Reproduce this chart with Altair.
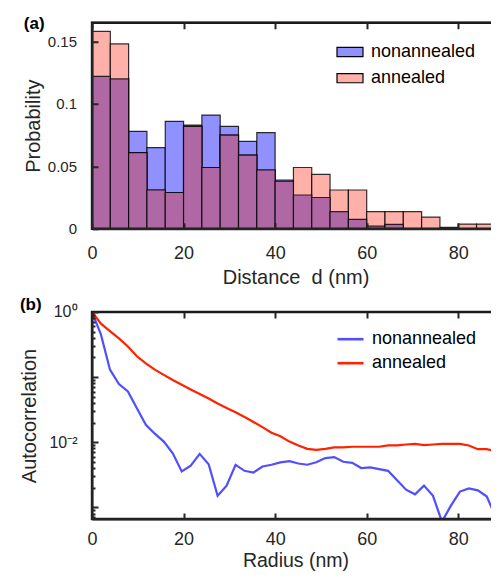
import altair as alt
import pandas as pd

# ---------------- data ----------------
series_names = ["nonannealed", "annealed"]

bin_left = [0, 4, 8, 12, 16, 20, 24, 28, 32, 36, 40, 44, 48, 52, 56, 60, 64, 68, 72, 76, 80, 84]
bin_right = [4, 8, 12, 16, 20, 24, 28, 32, 36, 40, 44, 48, 52, 56, 60, 64, 68, 72, 76, 80, 84, 88]
nonannealed_prob = [0.122, 0.120, 0.078, 0.065, 0.086, 0.083, 0.091, 0.082, 0.070, 0.077, 0.039,
                    0.027, 0.025, 0.0136, 0.0075, 0.002, 0.0035, 0.0, 0.0, 0.001, 0.0, 0.0]
annealed_prob = [0.158, 0.148, 0.061, 0.031, 0.029, 0.082, 0.049, 0.075, 0.059, 0.047, 0.038,
                 0.049, 0.0435, 0.031, 0.031, 0.0136, 0.0136, 0.0136, 0.0093, 0.0, 0.0037, 0.0037]

radius_nm = [0, 1.96, 3.92, 5.88, 7.84, 9.8, 11.76, 13.72, 15.68, 17.64, 19.6, 21.56, 23.52,
             25.48, 27.44, 29.4, 31.36, 33.32, 35.28, 37.24, 39.2, 41.16, 43.12, 45.08, 47.04,
             49.0, 50.96, 52.92, 54.88, 56.84, 58.8, 60.76, 62.72, 64.68, 66.64, 68.6, 70.56,
             72.52, 74.48, 76.44, 78.4, 80.36, 82.32, 84.28, 86.24, 88.2, 90.16]
nonannealed_acf = [1.0, 0.449, 0.130, 0.078, 0.060, 0.0333, 0.0185, 0.0135, 0.0102, 0.00676,
                   0.00355, 0.00437, 0.0066, 0.00457, 0.0015, 0.00214, 0.00447, 0.00363, 0.00342,
                   0.00423, 0.00449, 0.0049, 0.0051, 0.0047, 0.0045, 0.0049, 0.0057, 0.0059,
                   0.0050, 0.0048, 0.0040, 0.0041, 0.00385, 0.00363, 0.0026, 0.00186, 0.00158,
                   0.00215, 0.0015, 0.0006, 0.00106, 0.00174, 0.00195, 0.00182, 0.00146, 0.0007,
                   0.0009]
annealed_acf = [1.0, 0.661, 0.509, 0.394, 0.295, 0.209, 0.162, 0.130, 0.108, 0.090, 0.0764,
                0.0646, 0.055, 0.0468, 0.0394, 0.0335, 0.0288, 0.0243, 0.0204, 0.0170, 0.0140,
                0.0123, 0.0102, 0.0089, 0.0079, 0.0076, 0.0079, 0.0083, 0.0083, 0.0085, 0.0085,
                0.0085, 0.0085, 0.0089, 0.0089, 0.0092, 0.0094, 0.0090, 0.0092, 0.0094, 0.0094,
                0.0094, 0.0089, 0.0078, 0.0078, 0.0072, 0.0083]

x_ticks = [0, 20, 40, 60, 80]
prob_ticks = [0, 0.05, 0.1, 0.15]
acf_ticks = [1, 0.9, 0.8, 0.7, 0.6, 0.5, 0.4, 0.3, 0.2,
             0.1, 0.09, 0.08, 0.07, 0.06, 0.05, 0.04, 0.03, 0.02,
             0.01, 0.009, 0.008, 0.007, 0.006, 0.005, 0.004, 0.003, 0.002,
             0.001, 0.0009, 0.0008, 0.0007]

x_limits = [0, 88.9]
prob_limits = [0, 0.165]
acf_limits = [0.00066, 1]

# ---------------- tables ----------------
hist_df = pd.concat([
    pd.DataFrame({"start": bin_left, "end": bin_right, "prob": nonannealed_prob, "series": series_names[0]}),
    pd.DataFrame({"start": bin_left, "end": bin_right, "prob": annealed_prob, "series": series_names[1]}),
], ignore_index=True)
overlap_df = pd.DataFrame({"start": bin_left, "end": bin_right,
                           "prob": [min(a, b) for a, b in zip(nonannealed_prob, annealed_prob)]})

acf_df = pd.concat([
    pd.DataFrame({"radius": radius_nm, "acf": nonannealed_acf, "series": series_names[0]}),
    pd.DataFrame({"radius": radius_nm, "acf": annealed_acf, "series": series_names[1]}),
], ignore_index=True)

box_a_df = pd.DataFrame({"start": [x_limits[0]], "end": [x_limits[1]],
                         "prob": [prob_limits[1]], "prob_lo": [prob_limits[0]]})
box_b_df = pd.DataFrame({"radius": [x_limits[0]], "radius_end": [x_limits[1]],
                         "acf": [acf_limits[1]], "acf_lo": [acf_limits[0]]})

# ---------------- style ----------------
W = 407
HA = 206
HB = 207
INK = "#262626"
FONT = "Liberation Sans"
BAR_COLORS = ["#9090ff", "#ffb0a8"]
OVERLAP_COLOR = "#b068a4"
LINE_COLORS = ["#4f4fff", "#ff2200"]
NBSP = "\u00a0"


def x_axis(title, h, label_pad, title_pad, title_size):
    return alt.Axis(values=x_ticks, title=title, titleFontSize=title_size, titleFontWeight="normal",
                    titleColor=INK, labelColor=INK, labelFontSize=18, labelFlush=False,
                    labelPadding=label_pad, titlePadding=title_pad, ticks=False, zindex=1,
                    domain=True, domainColor=INK, domainWidth=2,
                    grid=True, gridColor=INK, gridWidth=2, gridOpacity=1, gridDash=[6, h - 12, 6])


def legend(y, symbol, **kw):
    return alt.Legend(title=None, orient="none", legendX=244, legendY=y, labelFontSize=18,
                      labelColor="black", labelFont=FONT, symbolType=symbol, symbolSize=676,
                      labelOffset=7, padding=0, **kw)


x_scale = alt.Scale(domain=x_limits, nice=False, zero=False)
y_scale_a = alt.Scale(domain=prob_limits, nice=False)
y_scale_b = alt.Scale(type="log", domain=acf_limits, nice=False)

y_axis_a = alt.Axis(values=prob_ticks, format="~g", title="Probability", titleFontSize=20,
                    titleFontWeight="normal", titleColor=INK, labelColor=INK, labelFontSize=15,
                    labelFlush=False, labelPadding=15.5, titlePadding=3.5, ticks=False, zindex=1,
                    domain=True, domainColor=INK, domainWidth=2,
                    grid=True, gridColor=INK, gridWidth=2, gridOpacity=1, gridDash=[6, W - 12, 6])

bars = alt.Chart(hist_df).mark_bar(stroke="black", strokeWidth=1.2, strokeOpacity=0.8, clip=True).encode(
    x=alt.X("start:Q", scale=x_scale, axis=x_axis(f"Distance{NBSP}{NBSP}d{NBSP}(nm)", HA, 16, 5, 20)),
    x2="end:Q",
    y=alt.Y("prob:Q", scale=y_scale_a, stack=None, axis=y_axis_a),
    y2=alt.datum(0),
    color=alt.Color("series:N", scale=alt.Scale(domain=series_names, range=BAR_COLORS),
                    legend=legend(15.3, "M-1,-0.35H1V0.35H-1Z", rowPadding=3.2,
                                  symbolOpacity=1, symbolStrokeColor="black", symbolStrokeWidth=1.2)),
)

overlap = alt.Chart(overlap_df).mark_bar(fill=OVERLAP_COLOR, stroke="black", strokeWidth=1.2,
                                         strokeOpacity=0.8, clip=True).encode(
    x=alt.X("start:Q", scale=x_scale),
    x2="end:Q",
    y=alt.Y("prob:Q", scale=y_scale_a),
    y2=alt.datum(0),
)

box_a = alt.Chart(box_a_df).mark_rect(fill="white", fillOpacity=0, stroke="#1a1a1a", strokeWidth=2.4).encode(
    x=alt.X("start:Q", scale=x_scale),
    x2="end:Q",
    y=alt.Y("prob:Q", scale=y_scale_a),
    y2="prob_lo:Q",
)

hist = alt.layer(bars, overlap, box_a).properties(
    width=W, height=HA,
    title=alt.TitleParams("(a)", anchor="start", frame="bounds", fontSize=17, fontWeight="bold",
                          color="black", font=FONT, offset=0, dy=11.9, dx=0),
)

acf_axis_y = alt.Axis(
    values=acf_ticks,
    labelExpr="datum.value == 1 ? '10⁰' : (datum.value == 0.01 ? '10⁻²' : '')",
    title="Autocorrelation", titleFontSize=20, titleFontWeight="normal", titleColor=INK,
    labelColor=INK, labelFontSize=16, labelFlush=False, labelOverlap=False, labelPadding=15,
    titlePadding=9, ticks=False, zindex=1, domain=True, domainColor=INK, domainWidth=2,
    grid=True, gridColor=INK, gridWidth=2, gridOpacity=1,
    gridDash={"condition": {"test": "indexof([1, 0.1, 0.01, 0.001], datum.value) >= 0",
                            "value": [6, W - 12, 6]},
              "value": [3, W - 6, 3]},
)

lines = alt.Chart(acf_df).mark_line(strokeWidth=2.2, clip=True).encode(
    x=alt.X("radius:Q", scale=x_scale, axis=x_axis("Radius (nm)", HB, 12, 3, 19.5)),
    y=alt.Y("acf:Q", scale=y_scale_b, axis=acf_axis_y),
    color=alt.Color("series:N", scale=alt.Scale(domain=series_names, range=LINE_COLORS),
                    legend=legend(12.7, "stroke", rowPadding=0, symbolStrokeWidth=2.6)),
)

box_b = alt.Chart(box_b_df).mark_rect(fill="white", fillOpacity=0, stroke="#1a1a1a", strokeWidth=2.4).encode(
    x=alt.X("radius:Q", scale=x_scale),
    x2="radius_end:Q",
    y=alt.Y("acf:Q", scale=y_scale_b),
    y2="acf_lo:Q",
)

acf = alt.layer(lines, box_b).properties(
    width=W, height=HB,
    title=alt.TitleParams("(b)", anchor="start", frame="bounds", fontSize=17, fontWeight="bold",
                          color="black", font=FONT, offset=0, dy=10.5, dx=0),
)

chart = alt.vconcat(hist, acf, spacing=6.3).resolve_scale(color="independent").properties(
    padding={"left": 10, "top": 5.7, "right": -11, "bottom": 0}
).configure(
    font=FONT,
).configure_view(
    stroke=INK, strokeWidth=2,
).configure_axis(
    labelFont=FONT, titleFont=FONT,
)

chart.save("out.html", embed_options={"renderer": "svg", "actions": False})
